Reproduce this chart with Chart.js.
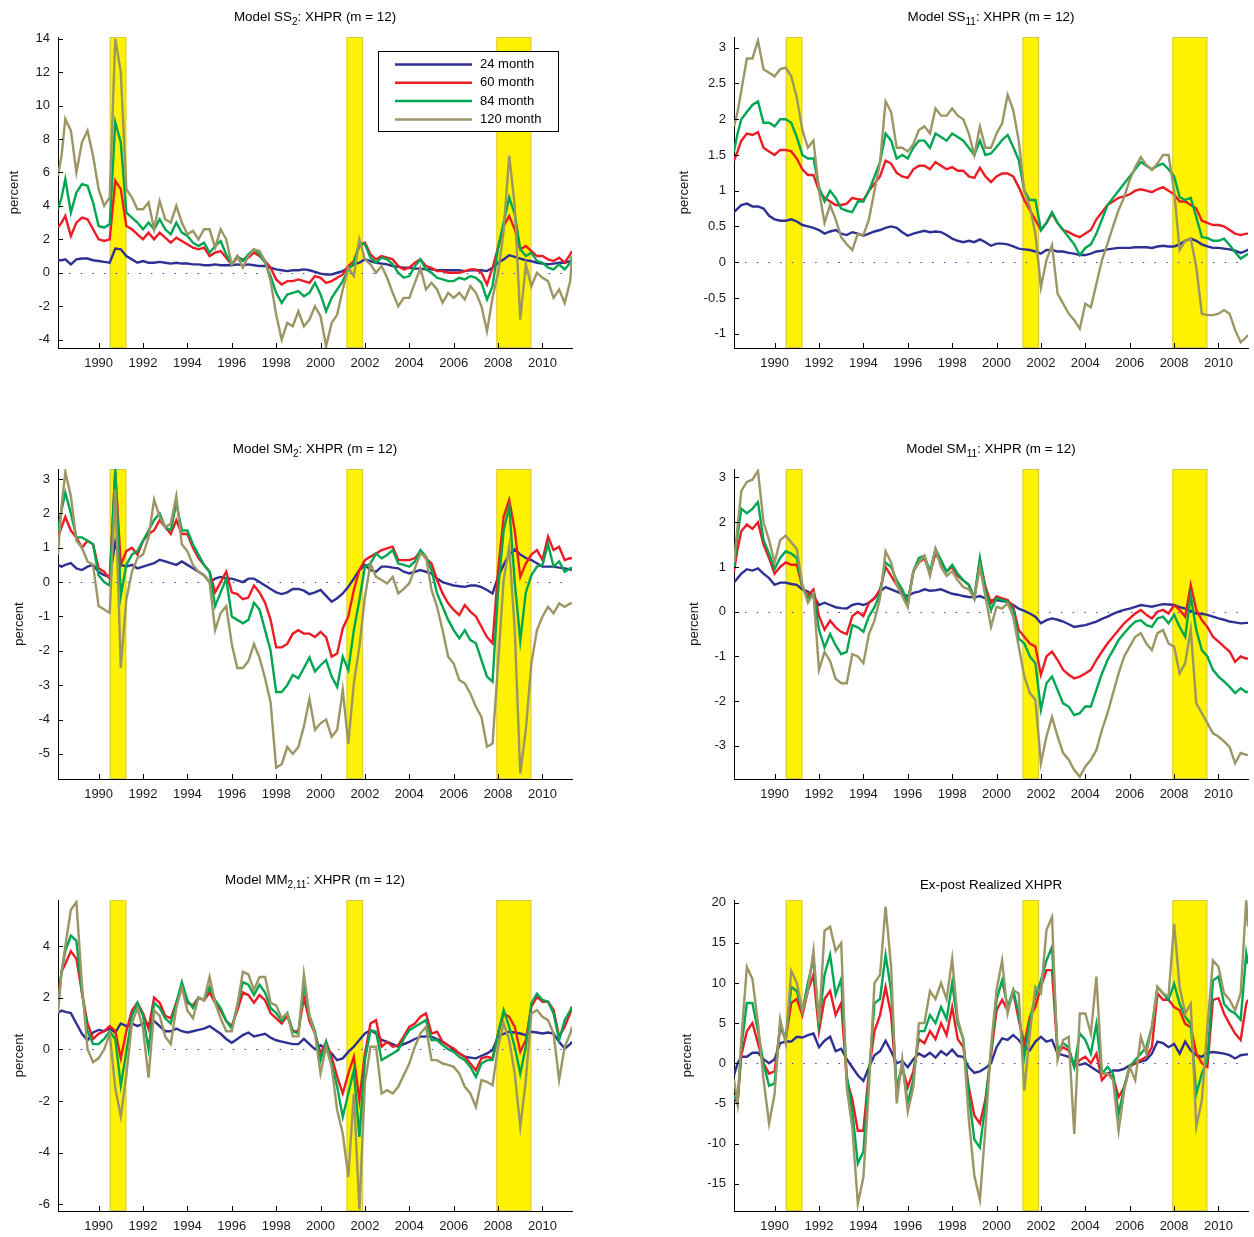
<!DOCTYPE html>
<html>
<head>
<meta charset="utf-8">
<script src="https://cdn.jsdelivr.net/npm/chart.js@4.4.0/dist/chart.umd.min.js"></script>
<style>
  body { margin: 0; background: #fff; width: 1254px; height: 1237px; position: relative; overflow: hidden; }
  canvas { position: absolute; }
</style>
</head>
<body>
<canvas id="c1"></canvas>
<canvas id="c2"></canvas>
<canvas id="c3"></canvas>
<canvas id="c4"></canvas>
<canvas id="c5"></canvas>
<canvas id="c6"></canvas>
<script>
// sample dates (decimal years, roughly quarterly)
const dates = [
  1988.17, 1988.33, 1988.5, 1988.75,
  1989, 1989.25, 1989.5, 1989.75,
  1990, 1990.25, 1990.5, 1990.75,
  1991, 1991.25, 1991.5, 1991.75,
  1992, 1992.25, 1992.5, 1992.75,
  1993, 1993.25, 1993.5, 1993.75,
  1994, 1994.25, 1994.5, 1994.75,
  1995, 1995.25, 1995.5, 1995.75,
  1996, 1996.25, 1996.5, 1996.75,
  1997, 1997.25, 1997.5, 1997.75,
  1998, 1998.25, 1998.5, 1998.75,
  1999, 1999.25, 1999.5, 1999.75,
  2000, 2000.25, 2000.5, 2000.75,
  2001, 2001.25, 2001.5, 2001.75,
  2002, 2002.25, 2002.5, 2002.75,
  2003, 2003.25, 2003.5, 2003.75,
  2004, 2004.25, 2004.5, 2004.75,
  2005, 2005.25, 2005.5, 2005.75,
  2006, 2006.25, 2006.5, 2006.75,
  2007, 2007.25, 2007.5, 2007.75,
  2008, 2008.25, 2008.5, 2008.75,
  2009, 2009.25, 2009.5, 2009.75,
  2010, 2010.25, 2010.5, 2010.75,
  2011, 2011.25, 2011.33
];

const seriesNames = ['24 month', '60 month', '84 month', '120 month'];
const seriesColors = ['#2e3192', '#ed1c24', '#00a651', '#9b9664'];
const recessions = [[1990.5, 1991.25], [2001.17, 2001.92], [2007.92, 2009.5]];
const xTicks = [1990, 1992, 1994, 1996, 1998, 2000, 2002, 2004, 2006, 2008, 2010];

// Model SS2
const ss2_24 = [
  0.75,0.75,0.8,0.5, 0.8,0.85,0.85,0.75, 0.7,0.65,0.6,1.45, 1.4,1.0,0.8,0.6,
  0.7,0.6,0.6,0.65, 0.6,0.55,0.6,0.55, 0.55,0.5,0.5,0.45, 0.45,0.5,0.45,0.45,
  0.45,0.5,0.45,0.5, 0.45,0.4,0.4,0.3, 0.2,0.15,0.1,0.15, 0.15,0.2,0.15,0.05,
  -0.05,-0.1,-0.1,0.0, 0.1,0.3,0.5,0.6, 0.8,0.7,0.6,0.55, 0.5,0.4,0.35,0.3,
  0.3,0.25,0.25,0.2, 0.2,0.15,0.15,0.15, 0.15,0.15,0.1,0.15, 0.15,0.15,0.1,0.3,
  0.6,0.8,1.05,0.95, 0.85,0.75,0.7,0.6, 0.55,0.5,0.55,0.6, 0.6,0.7,0.75
];
const ss2_60 = [
  2.7,3.0,3.4,2.2, 3.0,3.3,3.2,2.6, 2.0,1.9,2.0,5.5, 5.0,2.8,2.6,2.3,
  2.0,2.4,2.0,2.4, 2.1,1.8,2.1,1.9, 1.7,1.5,1.4,1.5, 1.0,1.2,1.3,0.9,
  0.5,0.9,0.8,0.9, 1.2,1.0,0.7,0.3, -0.4,-0.7,-0.5,-0.5, -0.4,-0.5,-0.6,-0.2,
  -0.3,-0.6,-0.5,-0.3, -0.1,0.4,0.7,1.6, 1.8,1.1,0.8,1.0, 0.9,0.8,0.4,0.2,
  0.3,0.6,0.8,0.4, 0.3,0.1,0.1,0.0, 0.0,0.0,0.1,0.2, 0.2,0.0,-0.7,0.3,
  1.5,2.8,3.4,2.6, 1.4,1.6,1.3,1.0, 1.0,0.8,0.7,0.9, 0.6,1.1,1.3
];
const ss2_84 = [
  3.8,4.5,5.6,3.6, 4.8,5.3,5.2,4.2, 2.8,2.7,2.9,9.0, 7.8,3.6,3.3,3.0,
  2.6,3.0,2.6,3.2, 2.6,2.3,3.0,2.4, 2.2,1.8,1.6,1.8, 1.2,1.6,1.9,1.1,
  0.5,1.0,0.7,1.1, 1.4,1.1,0.6,-0.2, -1.2,-1.8,-1.3,-1.2, -1.1,-1.4,-1.2,-0.6,
  -1.3,-2.3,-1.5,-1.0, -0.5,0.2,0.6,1.8, 1.7,0.9,0.6,0.9, 0.8,0.5,0.0,-0.3,
  -0.2,0.4,0.8,0.2, 0.0,-0.3,-0.4,-0.5, -0.5,-0.3,-0.4,-0.2, -0.3,-0.6,-1.6,-0.8,
  1.5,3.0,4.5,3.5, 1.4,1.0,1.2,0.7, 0.6,0.3,0.2,0.5, 0.2,0.6,1.0
];
const ss2_120 = [
  5.8,7.0,9.2,8.5, 6.0,7.8,8.5,7.0, 5.0,4.0,4.5,14.0, 12.0,5.0,4.5,3.8,
  3.8,4.2,2.6,4.3, 3.2,3.0,4.0,3.0, 2.3,2.5,2.0,2.6, 2.6,1.5,2.6,2.0,
  0.5,1.0,0.3,1.0, 1.4,1.3,0.7,-0.5, -2.5,-4.0,-3.0,-3.2, -2.3,-3.2,-2.8,-2.0,
  -2.6,-4.4,-3.0,-2.5, -1.0,0.3,-0.2,2.0, 0.8,0.5,0.0,0.4, -0.3,-1.2,-2.0,-1.5,
  -1.5,-0.6,0.3,-1.0, -0.6,-1.0,-1.8,-1.2, -1.5,-1.2,-1.6,-0.8, -1.2,-2.0,-3.5,-1.5,
  0.0,2.5,7.0,4.0, -2.8,0.5,-0.8,0.0, -0.3,-0.5,-1.5,-1.0, -1.8,-0.5,1.0
];

// Model SS11
const ss11_24 = [
  0.7,0.75,0.8,0.82, 0.78,0.78,0.75,0.65, 0.6,0.58,0.58,0.6, 0.57,0.52,0.5,0.48,
  0.45,0.4,0.43,0.45, 0.4,0.38,0.42,0.4, 0.37,0.4,0.43,0.45, 0.48,0.5,0.48,0.42,
  0.37,0.4,0.42,0.44, 0.42,0.43,0.42,0.38, 0.33,0.3,0.28,0.3, 0.28,0.32,0.28,0.23,
  0.26,0.26,0.25,0.22, 0.19,0.18,0.17,0.15, 0.12,0.17,0.17,0.15, 0.15,0.13,0.12,0.1,
  0.1,0.12,0.15,0.16, 0.18,0.19,0.2,0.2, 0.2,0.21,0.21,0.21, 0.2,0.22,0.23,0.22,
  0.22,0.25,0.3,0.33, 0.3,0.25,0.22,0.2, 0.2,0.19,0.18,0.16, 0.13,0.16,0.18
];
const ss11_60 = [
  1.42,1.55,1.7,1.8, 1.78,1.82,1.6,1.55, 1.5,1.57,1.57,1.55, 1.45,1.3,1.22,1.22,
  1.0,0.9,0.85,0.8, 0.8,0.82,0.9,0.88, 0.87,1.0,1.1,1.2, 1.42,1.38,1.25,1.2,
  1.18,1.3,1.35,1.35, 1.3,1.4,1.35,1.3, 1.33,1.28,1.28,1.2, 1.18,1.32,1.2,1.12,
  1.2,1.24,1.24,1.2, 1.05,0.87,0.73,0.59, 0.45,0.55,0.68,0.55, 0.45,0.42,0.38,0.35,
  0.4,0.45,0.6,0.7, 0.8,0.85,0.9,0.92, 0.95,1.0,1.02,1.0, 0.98,1.02,1.05,1.0,
  0.95,0.85,0.85,0.8, 0.75,0.58,0.55,0.52, 0.52,0.5,0.45,0.4, 0.38,0.4,0.4
];
const ss11_84 = [
  1.55,1.8,2.0,2.1, 2.2,2.25,1.95,1.95, 1.9,2.0,2.0,1.95, 1.75,1.5,1.45,1.45,
  1.05,0.85,1.0,0.9, 0.75,0.72,0.7,0.85, 0.85,1.0,1.2,1.4, 1.8,1.7,1.45,1.5,
  1.45,1.6,1.7,1.7, 1.6,1.8,1.75,1.7, 1.8,1.75,1.7,1.6, 1.5,1.7,1.5,1.52,
  1.61,1.71,1.78,1.61, 1.43,1.0,0.87,0.87, 0.45,0.55,0.7,0.55, 0.45,0.35,0.25,0.1,
  0.2,0.25,0.4,0.6, 0.8,0.9,1.0,1.1, 1.2,1.3,1.4,1.35, 1.3,1.35,1.38,1.3,
  1.2,0.91,0.87,0.9, 0.63,0.35,0.34,0.3, 0.3,0.33,0.24,0.14, 0.05,0.1,0.12
];
const ss11_120 = [
  1.9,2.1,2.4,2.85, 2.85,3.1,2.7,2.65, 2.6,2.7,2.72,2.6, 2.3,1.85,1.6,1.7,
  1.0,0.55,0.8,0.6, 0.35,0.25,0.17,0.4, 0.38,0.6,1.0,1.4, 2.25,2.1,1.6,1.6,
  1.55,1.65,1.85,1.9, 1.8,2.15,2.05,2.05, 2.15,2.05,2.0,1.8, 1.5,1.9,1.6,1.6,
  1.8,1.94,2.34,2.13, 1.7,1.0,0.77,0.4, -0.35,0.03,0.24,-0.44, -0.58,-0.72,-0.81,-0.93,
  -0.58,-0.63,-0.3,0.03, 0.26,0.5,0.73,0.91, 1.15,1.33,1.47,1.36, 1.29,1.38,1.5,1.5,
  1.0,0.17,0.3,0.33, -0.07,-0.72,-0.74,-0.74, -0.72,-0.67,-0.72,-0.95, -1.12,-1.05,-1.02
];

// Model SM2
const sm2_24 = [
  0.5,0.45,0.5,0.55, 0.4,0.35,0.45,0.5, 0.3,0.2,0.15,1.15, 0.5,0.45,0.5,0.4,
  0.45,0.5,0.55,0.65, 0.6,0.55,0.5,0.6, 0.5,0.4,0.3,0.2, 0.0,0.1,0.15,0.1,
  0.1,0.05,0.0,0.1, 0.1,0.0,-0.1,-0.2, -0.3,-0.35,-0.3,-0.2, -0.2,-0.25,-0.35,-0.3,
  -0.23,-0.4,-0.57,-0.47, -0.33,-0.14,0.1,0.35, 0.5,0.35,0.3,0.45, 0.45,0.42,0.4,0.3,
  0.25,0.3,0.35,0.3, 0.25,0.1,0.0,-0.05, -0.1,-0.12,-0.14,-0.1, -0.1,-0.15,-0.23,-0.33,
  0.15,0.5,0.8,0.95, 0.8,0.7,0.64,0.55, 0.45,0.45,0.45,0.42, 0.4,0.37,0.35
];
const sm2_60 = [
  1.3,1.6,1.9,1.5, 1.3,1.0,1.2,1.1, 0.4,0.3,0.1,3.2, 0.5,0.9,1.0,0.8,
  1.2,1.4,1.5,1.8, 1.6,1.4,1.8,1.4, 1.4,1.0,0.7,0.5, 0.3,-0.3,0.0,0.3,
  -0.3,-0.35,-0.5,-0.45, -0.1,-0.3,-0.6,-1.1, -1.9,-1.9,-1.8,-1.5, -1.4,-1.5,-1.5,-1.6,
  -1.45,-1.6,-2.17,-2.08, -1.35,-1.0,-0.23,0.35, 0.64,0.74,0.83,0.93, 0.98,1.03,0.64,0.64,
  0.64,0.7,0.88,0.69, 0.54,0.06,-0.33,-0.62, -0.81,-0.96,-0.67,-0.86, -1.0,-1.3,-1.6,-1.78,
  0.35,1.9,2.39,1.5, 0.15,0.54,0.8,0.93, 0.64,1.32,0.93,1.03, 0.64,0.7,0.69
];
const sm2_84 = [
  1.5,2.1,2.6,2.0, 1.3,1.3,1.2,1.1, 0.2,0.0,-0.1,3.3, -0.4,0.5,0.8,0.9,
  1.2,1.5,1.8,2.0, 1.6,1.5,2.3,1.5, 1.5,1.1,0.8,0.5, 0.3,-0.7,-0.3,0.1,
  -1.0,-1.1,-1.2,-1.1, -0.6,-0.8,-1.4,-2.0, -3.2,-3.2,-3.0,-2.7, -2.8,-2.5,-2.2,-2.6,
  -2.42,-2.27,-2.75,-3.05, -2.17,-2.56,-1.4,-0.52, 0.45,0.54,0.83,0.69, 0.79,0.93,0.54,0.5,
  0.45,0.6,0.93,0.74, 0.35,-0.33,-0.72,-1.1, -1.4,-1.64,-1.4,-1.69, -1.78,-2.27,-2.75,-2.9,
  -0.23,1.5,2.2,0.0, -1.7,-0.3,0.2,0.45, 0.5,1.1,0.45,0.6, 0.3,0.4,0.4
];
const sm2_120 = [
  0.8,2.2,3.2,2.5, 1.2,1.0,0.6,0.5, -0.7,-0.8,-0.9,2.7, -2.5,-0.5,0.3,0.7,
  0.8,1.3,2.4,1.9, 1.6,1.7,2.5,1.1, 0.9,0.5,0.3,0.2, 0.0,-1.4,-0.9,-0.7,
  -1.8,-2.5,-2.5,-2.3, -1.8,-2.2,-2.8,-3.5, -5.4,-5.3,-4.8,-5.0, -4.8,-4.2,-3.4,-4.3,
  -4.11,-4.0,-4.5,-4.3, -3.14,-4.7,-2.95,-1.88, -0.43,0.54,0.15,0.06, -0.04,0.15,-0.33,-0.2,
  -0.04,0.4,0.83,0.74, -0.23,-0.72,-1.4,-2.17, -2.37,-2.85,-2.95,-3.24, -3.63,-3.92,-4.79,-4.7,
  -2.37,0.06,1.03,-1.4, -5.57,-4.3,-2.37,-1.4, -1.0,-0.72,-0.91,-0.62, -0.72,-0.62,-0.62
];

// Model SM11
const sm11_24 = [
  0.65,0.75,0.85,0.95, 0.92,0.97,0.85,0.75, 0.6,0.65,0.65,0.62, 0.6,0.5,0.45,0.35,
  0.15,0.2,0.15,0.1, 0.08,0.07,0.15,0.18, 0.15,0.2,0.3,0.45, 0.55,0.5,0.45,0.4,
  0.35,0.42,0.45,0.5, 0.47,0.48,0.5,0.45, 0.4,0.38,0.35,0.33, 0.32,0.35,0.3,0.25,
  0.26,0.24,0.22,0.15, 0.07,0.02,-0.04,-0.11, -0.26,-0.19,-0.15,-0.18, -0.22,-0.28,-0.34,-0.32,
  -0.3,-0.26,-0.22,-0.16, -0.11,-0.05,0.0,0.04, 0.07,0.11,0.15,0.13, 0.11,0.14,0.17,0.16,
  0.15,0.1,0.07,0.02, -0.04,-0.05,-0.07,-0.11, -0.15,-0.18,-0.22,-0.24, -0.26,-0.25,-0.25
];
const sm11_60 = [
  0.9,1.4,1.8,1.95, 1.85,2.0,1.5,1.2, 0.85,1.0,1.1,1.05, 1.05,0.55,0.35,0.5,
  -0.1,-0.4,-0.2,-0.35, -0.45,-0.5,-0.1,0.0, -0.1,0.2,0.3,0.5, 1.0,0.8,0.6,0.4,
  0.2,0.9,1.1,1.2, 0.85,1.3,1.1,0.9, 1.0,0.8,0.7,0.6, 0.3,1.15,0.56,0.19,
  0.34,0.3,0.26,0.11, -0.41,-0.56,-0.71,-0.78, -1.41,-1.0,-0.89,-1.08, -1.3,-1.41,-1.49,-1.45,
  -1.38,-1.3,-1.08,-0.89, -0.71,-0.56,-0.41,-0.26, -0.15,-0.04,0.04,-0.07, -0.15,0.0,0.04,-0.04,
  0.15,0.04,-0.11,0.6, 0.04,-0.19,-0.34,-0.56, -0.67,-0.78,-0.89,-1.12, -1.0,-1.05,-1.04
];
const sm11_84 = [
  1.0,1.7,2.3,2.2, 2.3,2.45,1.6,1.3, 0.95,1.2,1.35,1.3, 1.2,0.55,0.3,0.4,
  -0.4,-0.8,-0.5,-0.75, -0.95,-0.9,-0.3,-0.35, -0.45,-0.1,0.1,0.4, 1.1,1.0,0.7,0.5,
  0.2,0.9,1.2,1.25, 0.9,1.4,1.15,0.9, 1.05,0.85,0.7,0.6, 0.3,1.2,0.48,0.04,
  0.3,0.26,0.22,0.04, -0.6,-0.71,-1.0,-1.15, -2.19,-1.6,-1.45,-1.75, -2.05,-2.12,-2.31,-2.27,
  -2.12,-2.12,-1.75,-1.38, -1.08,-0.86,-0.63,-0.48, -0.34,-0.22,-0.19,-0.3, -0.34,-0.15,-0.11,-0.26,
  -0.07,-0.34,-0.56,0.35, -0.41,-0.86,-1.0,-1.3, -1.45,-1.56,-1.68,-1.82, -1.71,-1.8,-1.79
];
const sm11_120 = [
  1.1,1.9,2.7,2.9, 2.95,3.15,2.0,1.6, 1.1,1.6,1.7,1.55, 1.4,0.6,0.2,0.4,
  -1.3,-0.9,-1.1,-1.5, -1.6,-1.6,-0.95,-1.0, -1.15,-0.5,-0.2,0.3, 1.35,1.1,0.6,0.35,
  0.1,0.9,1.1,1.25, 0.8,1.4,1.0,0.8, 0.9,0.7,0.55,0.5, 0.3,1.0,0.34,-0.34,
  0.11,0.07,0.19,-0.11, -0.78,-1.45,-1.82,-1.97, -3.39,-2.79,-2.35,-2.79, -3.16,-3.31,-3.54,-3.69,
  -3.46,-3.31,-3.09,-2.64, -2.27,-1.82,-1.38,-1.0, -0.78,-0.56,-0.48,-0.71, -0.86,-0.48,-0.41,-0.71,
  -0.78,-1.38,-1.15,-0.4, -2.05,-2.27,-2.49,-2.72, -2.79,-2.9,-3.02,-3.39, -3.16,-3.2,-3.2
];

// Model MM2,11
const mm_24 = [
  1.4,1.5,1.45,1.4, 1.0,0.6,0.35,0.65, 0.75,0.7,0.8,0.65, 1.0,0.9,1.0,0.9,
  1.0,1.0,1.1,0.9, 0.7,0.7,0.8,0.7, 0.65,0.7,0.75,0.8, 0.9,0.75,0.6,0.4,
  0.25,0.4,0.55,0.65, 0.5,0.55,0.6,0.45, 0.35,0.3,0.25,0.2, 0.2,0.4,0.2,0.0,
  0.16,0.0,-0.16,-0.42, -0.35,-0.1,0.1,0.36, 0.61,0.74,0.61,0.36, 0.29,0.2,0.1,0.2,
  0.29,0.4,0.49,0.5, 0.49,0.4,0.29,0.15, -0.03,-0.15,-0.29,-0.32, -0.35,-0.25,-0.16,-0.03,
  0.49,0.6,0.68,0.65, 0.61,0.55,0.68,0.65, 0.61,0.65,0.61,0.29, 0.03,0.2,0.29
];
const mm_60 = [
  2.0,3.0,3.3,3.8, 3.5,2.2,1.0,0.4, 0.6,0.7,0.9,0.7, -0.35,0.7,1.5,1.8,
  1.4,0.8,2.0,1.8, 1.3,1.2,1.8,2.4, 1.8,1.7,2.0,1.9, 2.2,1.8,1.5,1.1,
  0.9,1.5,2.2,2.1, 1.8,2.1,1.9,1.4, 1.2,1.0,1.3,0.7, 0.7,2.0,1.1,0.6,
  -0.16,0.29,-0.29,-1.07, -1.71,-0.94,-0.29,-1.97, -0.16,1.0,1.13,0.1, 0.29,0.1,0.16,0.5,
  0.87,1.0,1.26,1.39, 0.61,0.68,0.29,0.15, 0.03,-0.16,-0.29,-0.55, -0.81,-0.35,-0.29,-0.35,
  0.61,1.39,1.26,0.87, -0.1,0.36,1.65,2.03, 1.84,1.84,1.52,0.49, 0.87,1.4,1.65
];
const mm_84 = [
  1.7,3.0,3.8,4.4, 4.2,2.2,0.7,0.2, 0.2,0.4,0.7,0.4, -1.4,-0.1,1.3,1.8,
  1.3,0.0,1.8,1.6, 1.2,1.0,1.8,2.6, 1.9,1.6,2.0,1.9, 2.4,1.9,1.6,1.1,
  0.8,1.7,2.6,2.5, 2.1,2.5,2.2,1.6, 1.4,1.1,1.4,0.7, 0.6,2.5,1.3,0.7,
  -0.42,0.29,-0.55,-1.45, -2.62,-1.71,-0.81,-3.39, -0.42,0.74,0.68,-0.42, -0.29,-0.16,-0.03,0.4,
  0.74,0.87,1.0,1.13, 0.36,0.36,0.16,0.0, -0.1,-0.29,-0.42,-0.68, -1.07,-0.55,-0.42,-0.42,
  0.61,1.52,0.87,0.1, -0.94,0.1,1.78,2.16, 1.91,1.84,1.39,0.36, 1.13,1.5,1.65
];
const mm_120 = [
  1.4,3.0,4.0,5.4, 5.7,2.5,0.0,-0.5, -0.35,0.0,0.6,-1.5, -2.6,-1.0,1.0,1.6,
  0.8,-1.1,1.5,1.3, 0.5,0.2,1.6,2.4, 1.5,1.2,2.0,1.9, 2.8,1.8,1.2,0.7,
  0.7,1.7,3.0,2.9, 2.3,2.8,2.8,1.8, 1.7,1.2,1.4,0.5, 0.5,2.9,1.3,0.6,
  -0.94,0.1,-0.68,-2.36, -3.26,-4.94,-1.71,-6.2, -1.3,0.1,0.1,-1.71, -1.58,-1.71,-1.45,-1.0,
  -0.55,0.1,0.61,0.87, -0.42,-0.42,-0.55,-0.6, -0.68,-0.94,-1.45,-1.71, -2.23,-1.19,-1.26,-1.39,
  0.1,1.0,0.36,-0.94, -3.0,-1.19,1.39,1.52, 1.26,1.13,0.61,-1.19, 0.1,0.6,0.87
];

// Ex-post realized
const real_24 = [
  -1.5,0.0,0.8,0.8, 1.3,1.3,0.5,0.0, 0.5,2.5,2.7,2.7, 3.3,3.2,3.5,3.7,
  2.0,2.8,3.3,1.5, 1.8,0.5,-0.5,-1.5, -2.2,-0.5,1.0,1.5, 2.8,1.5,0.0,0.3,
  -0.5,0.5,1.2,0.8, 1.3,0.7,1.5,1.0, 1.7,0.9,0.8,-0.5, -1.2,-1.0,-0.6,0.0,
  2.0,3.1,2.9,3.5, 2.9,2.0,1.6,2.7, 3.3,2.7,2.9,1.2, 1.0,0.8,0.0,-0.2,
  0.0,-0.45,-0.9,-1.3, -1.3,-0.9,-0.9,-0.7, -0.25,0.0,0.2,0.4, 1.2,2.7,2.5,2.0,
  2.4,1.2,2.7,1.6, 1.0,0.8,1.3,1.4, 1.3,1.2,1.0,0.6, 1.0,1.1,1.1
];
const real_60 = [
  -4.0,-5.0,1.0,4.0, 5.0,2.5,0.0,-1.3, -1.0,4.5,3.0,7.5, 8.0,6.0,9.0,11.0,
  4.0,8.0,9.0,6.0, 7.5,-2.0,-4.5,-8.4, -8.4,-1.0,4.0,6.0, 9.5,6.0,-3.0,-0.5,
  -3.0,-1.0,3.0,2.5, 4.0,3.0,5.0,3.5, 7.0,3.0,2.0,-3.0, -6.5,-7.5,-4.5,1.0,
  6.6,7.9,6.6,8.9, 5.4,2.5,5.8,7.0, 9.5,11.6,11.6,1.2, 2.0,1.6,-0.45,0.4,
  0.8,0.0,1.2,-2.1, -1.3,-1.7,-4.2,-3.0, -0.45,0.0,0.4,0.8, 2.0,8.7,7.9,7.9,
  7.0,6.6,4.9,4.5, 1.2,0.0,-0.45,7.9, 8.1,6.2,4.9,3.7, 2.9,7.4,7.9
];
const real_84 = [
  -4.0,-5.0,2.0,7.5, 7.5,4.0,0.0,-2.8, -2.5,4.8,3.0,9.5, 9.0,6.5,10.0,13.0,
  5.0,11.0,13.5,8.5, 10.5,-1.5,-6.0,-12.5, -11.0,-1.5,7.5,8.0, 13.5,9.0,-3.5,0.0,
  -5.0,-2.0,4.0,4.0, 6.0,5.0,7.0,5.5, 10.0,5.0,3.0,-4.0, -9.5,-10.5,-5.0,1.5,
  7.9,10.3,7.0,9.1, 6.2,0.8,5.4,8.3, 10.3,12.8,14.5,1.6, 2.5,2.0,-0.45,3.7,
  2.9,1.2,4.9,-1.3, -0.45,-1.3,-6.3,-3.0, -0.45,0.4,1.2,2.0, 4.5,9.5,8.7,7.9,
  9.9,7.4,5.8,4.9, -3.8,-1.3,0.4,10.3, 10.8,7.4,6.6,6.2, 5.4,13.7,12.4
];
const real_120 = [
  -2.0,-5.0,3.0,12.0, 10.5,5.0,-2.0,-7.5, -3.8,5.5,2.5,11.5, 10.0,6.5,9.0,14.0,
  5.0,16.5,17.0,14.0, 15.0,-3.0,-8.0,-17.5, -14.2,-3.0,10.0,11.0, 19.5,12.0,-5.0,0.5,
  -6.0,-3.0,5.0,5.0, 9.0,8.0,10.0,8.0, 13.0,5.5,3.0,-7.0, -14.0,-17.0,-8.0,2.0,
  9.1,12.8,6.2,9.1, 8.7,-3.4,3.7,9.5, 8.7,16.6,18.2,0.4, 2.9,3.3,-8.8,6.2,
  6.2,3.7,10.8,-1.3, -1.3,-2.1,-8.4,-3.4, -0.45,-2.1,3.3,1.2, 4.5,9.5,8.7,8.3,
  17.4,9.5,6.2,7.4, -7.9,-4.6,4.5,12.8, 12.0,8.7,7.9,6.6, 8.7,20.3,17.0
];

const panels = [
  { id: 'c1', left: 0, top: 0, h: 378, padRight: 8, sub: true, labelPad: 7,
    title: [['Model SS', 0], ['2', 1], [': XHPR (m = 12)', 0]],
    yMin: -4.5, yMax: 14.1, yTicks: [-4, -2, 0, 2, 4, 6, 8, 10, 12, 14],
    series: [ss2_24, ss2_60, ss2_84, ss2_120], legend: true },
  { id: 'c2', left: 676, top: 0, h: 378, padRight: 6, sub: true, labelPad: 1,
    title: [['Model SS', 0], ['11', 1], [': XHPR (m = 12)', 0]],
    yMin: -1.2, yMax: 3.15, yTicks: [-1, -0.5, 0, 0.5, 1, 1.5, 2, 2.5, 3],
    series: [ss11_24, ss11_60, ss11_84, ss11_120] },
  { id: 'c3', left: 0, top: 432, h: 377, padRight: 8, sub: true, labelPad: 12,
    title: [['Model SM', 0], ['2', 1], [': XHPR (m = 12)', 0]],
    yMin: -5.73, yMax: 3.29, yTicks: [-5, -4, -3, -2, -1, 0, 1, 2, 3],
    series: [sm2_24, sm2_60, sm2_84, sm2_120] },
  { id: 'c4', left: 676, top: 432, h: 377, padRight: 6, sub: true, labelPad: 11,
    title: [['Model SM', 0], ['11', 1], [': XHPR (m = 12)', 0]],
    yMin: -3.74, yMax: 3.19, yTicks: [-3, -2, -1, 0, 1, 2, 3],
    series: [sm11_24, sm11_60, sm11_84, sm11_120] },
  { id: 'c5', left: 0, top: 863, h: 378, padRight: 8, sub: true, labelPad: 12,
    title: [['Model MM', 0], ['2,11', 1], [': XHPR (m = 12)', 0]],
    yMin: -6.26, yMax: 5.78, yTicks: [-6, -4, -2, 0, 2, 4],
    series: [mm_24, mm_60, mm_84, mm_120] },
  { id: 'c6', left: 676, top: 863, h: 378, padRight: 6, sub: false, labelPad: 4,
    title: [['Ex-post Realized XHPR', 0]],
    yMin: -18.4, yMax: 20.33, yTicks: [-15, -10, -5, 0, 5, 10, 15, 20],
    series: [real_24, real_60, real_84, real_120] }
];

Chart.defaults.font.family = '"Liberation Sans", Arial, sans-serif';
Chart.defaults.font.size = 13;
Chart.defaults.color = '#1a1a1a';

const FONT = '"Liberation Sans", Arial, sans-serif';

const decor = {
  id: 'decor',
  beforeDatasetsDraw(chart, args, opts) {
    const { ctx, chartArea: a, scales: { x, y } } = chart;
    ctx.save();
    ctx.beginPath();
    ctx.rect(a.left, a.top, a.width, a.height);
    ctx.clip();
    // recession bars
    recessions.forEach(([s, e]) => {
      const x0 = x.getPixelForValue(s), x1 = x.getPixelForValue(e);
      ctx.fillStyle = '#fff200';
      ctx.fillRect(x0, a.top, x1 - x0, a.height);
      ctx.strokeStyle = '#d6c950';
      ctx.lineWidth = 1;
      ctx.strokeRect(x0 + 0.5, a.top + 0.5, x1 - x0 - 1, a.height - 1);
    });
    // dotted zero line
    const y0 = Math.round(y.getPixelForValue(0)) + 0.5;
    ctx.setLineDash([1.4, 10.3]);
    ctx.strokeStyle = '#3434d0';
    ctx.lineWidth = 1.2;
    ctx.beginPath();
    ctx.moveTo(a.left + 11, y0);
    ctx.lineTo(a.right, y0);
    ctx.stroke();
    ctx.restore();
  },
  afterDraw(chart, args, opts) {
    const { ctx, chartArea: a, scales: { x, y } } = chart;
    ctx.save();
    // inward tick marks
    ctx.strokeStyle = '#000';
    ctx.lineWidth = 1;
    ctx.beginPath();
    y.ticks.forEach(t => {
      const py = Math.round(y.getPixelForValue(t.value)) + 0.5;
      ctx.moveTo(a.left, py);
      ctx.lineTo(a.left + 5, py);
    });
    x.ticks.forEach(t => {
      const px = Math.round(x.getPixelForValue(t.value)) + 0.5;
      ctx.moveTo(px, a.bottom);
      ctx.lineTo(px, a.bottom - 5);
    });
    ctx.stroke();

    // title with subscripts
    const fonts = ['13.4px ' + FONT, '10px ' + FONT];
    let total = 0;
    opts.title.forEach(([t, s]) => { ctx.font = fonts[s]; total += ctx.measureText(t).width; });
    let tx = (a.left + a.right) / 2 - total / 2;
    const base = a.top - (opts.sub ? 16 : 11);
    ctx.fillStyle = '#000';
    ctx.textAlign = 'left';
    ctx.textBaseline = 'alphabetic';
    opts.title.forEach(([t, s]) => {
      ctx.font = fonts[s];
      ctx.fillText(t, tx, base + (s ? 4 : 0));
      tx += ctx.measureText(t).width;
    });

    // legend box
    if (opts.legend) {
      const bx = a.left + 320, by = a.top + 14, bw = 180, bh = 80;
      ctx.fillStyle = '#fff';
      ctx.fillRect(bx, by, bw, bh);
      ctx.strokeStyle = '#000';
      ctx.lineWidth = 1;
      ctx.strokeRect(bx + 0.5, by + 0.5, bw, bh);
      ctx.font = '13px ' + FONT;
      ctx.textBaseline = 'middle';
      seriesNames.forEach((name, i) => {
        const ly = by + 13.5 + i * 18.3;
        ctx.strokeStyle = seriesColors[i];
        ctx.lineWidth = 2.5;
        ctx.beginPath();
        ctx.moveTo(bx + 17, ly);
        ctx.lineTo(bx + 94, ly);
        ctx.stroke();
        ctx.fillStyle = '#000';
        ctx.fillText(name, bx + 102, ly);
      });
    }
    ctx.restore();
  }
};

panels.forEach(p => {
  p.series.forEach((s, i) => {
    if (s.length !== dates.length) console.error(p.id, i, s.length);
  });
  const el = document.getElementById(p.id);
  el.width = p.left === 0 ? 580 : 578;
  el.height = p.h;
  el.style.left = p.left + 'px';
  el.style.top = p.top + 'px';

  const datasets = p.series.map((vals, i) => ({
    label: seriesNames[i],
    data: vals.map((v, k) => ({ x: dates[k], y: v })),
    borderColor: seriesColors[i],
    backgroundColor: seriesColors[i],
    borderWidth: 2.4,
    pointRadius: 0,
    tension: 0,
    fill: false,
    order: 4 - i
  }));

  new Chart(el, {
    type: 'line',
    data: { datasets },
    options: {
      responsive: false,
      animation: false,
      devicePixelRatio: 1,
      layout: { padding: { top: 37, right: p.padRight, left: 0, bottom: 0 } },
      plugins: {
        legend: { display: false },
        tooltip: { enabled: false },
        decor: { title: p.title, sub: p.sub, legend: !!p.legend }
      },
      scales: {
        x: {
          type: 'linear',
          min: 1988.17,
          max: 2011.33,
          afterBuildTicks: s => { s.ticks = xTicks.map(v => ({ value: v })); },
          afterFit: s => { s.height = 30; },
          grid: { display: false, drawTicks: false },
          border: { display: true, color: '#000', width: 1 },
          ticks: { padding: 8, autoSkip: false, maxRotation: 0, callback: v => String(v) }
        },
        y: {
          type: 'linear',
          min: p.yMin,
          max: p.yMax,
          afterBuildTicks: s => { s.ticks = p.yTicks.map(v => ({ value: v })); },
          afterFit: s => { s.width = 58; },
          grid: { display: false, drawTicks: false },
          border: { display: true, color: '#000', width: 1 },
          ticks: { padding: 8, autoSkip: false, callback: v => String(v) },
          title: { display: true, text: 'percent', font: { size: 13 }, padding: { top: p.labelPad, bottom: 0 } }
        }
      }
    },
    plugins: [decor]
  });
});
</script>
</body>
</html>
